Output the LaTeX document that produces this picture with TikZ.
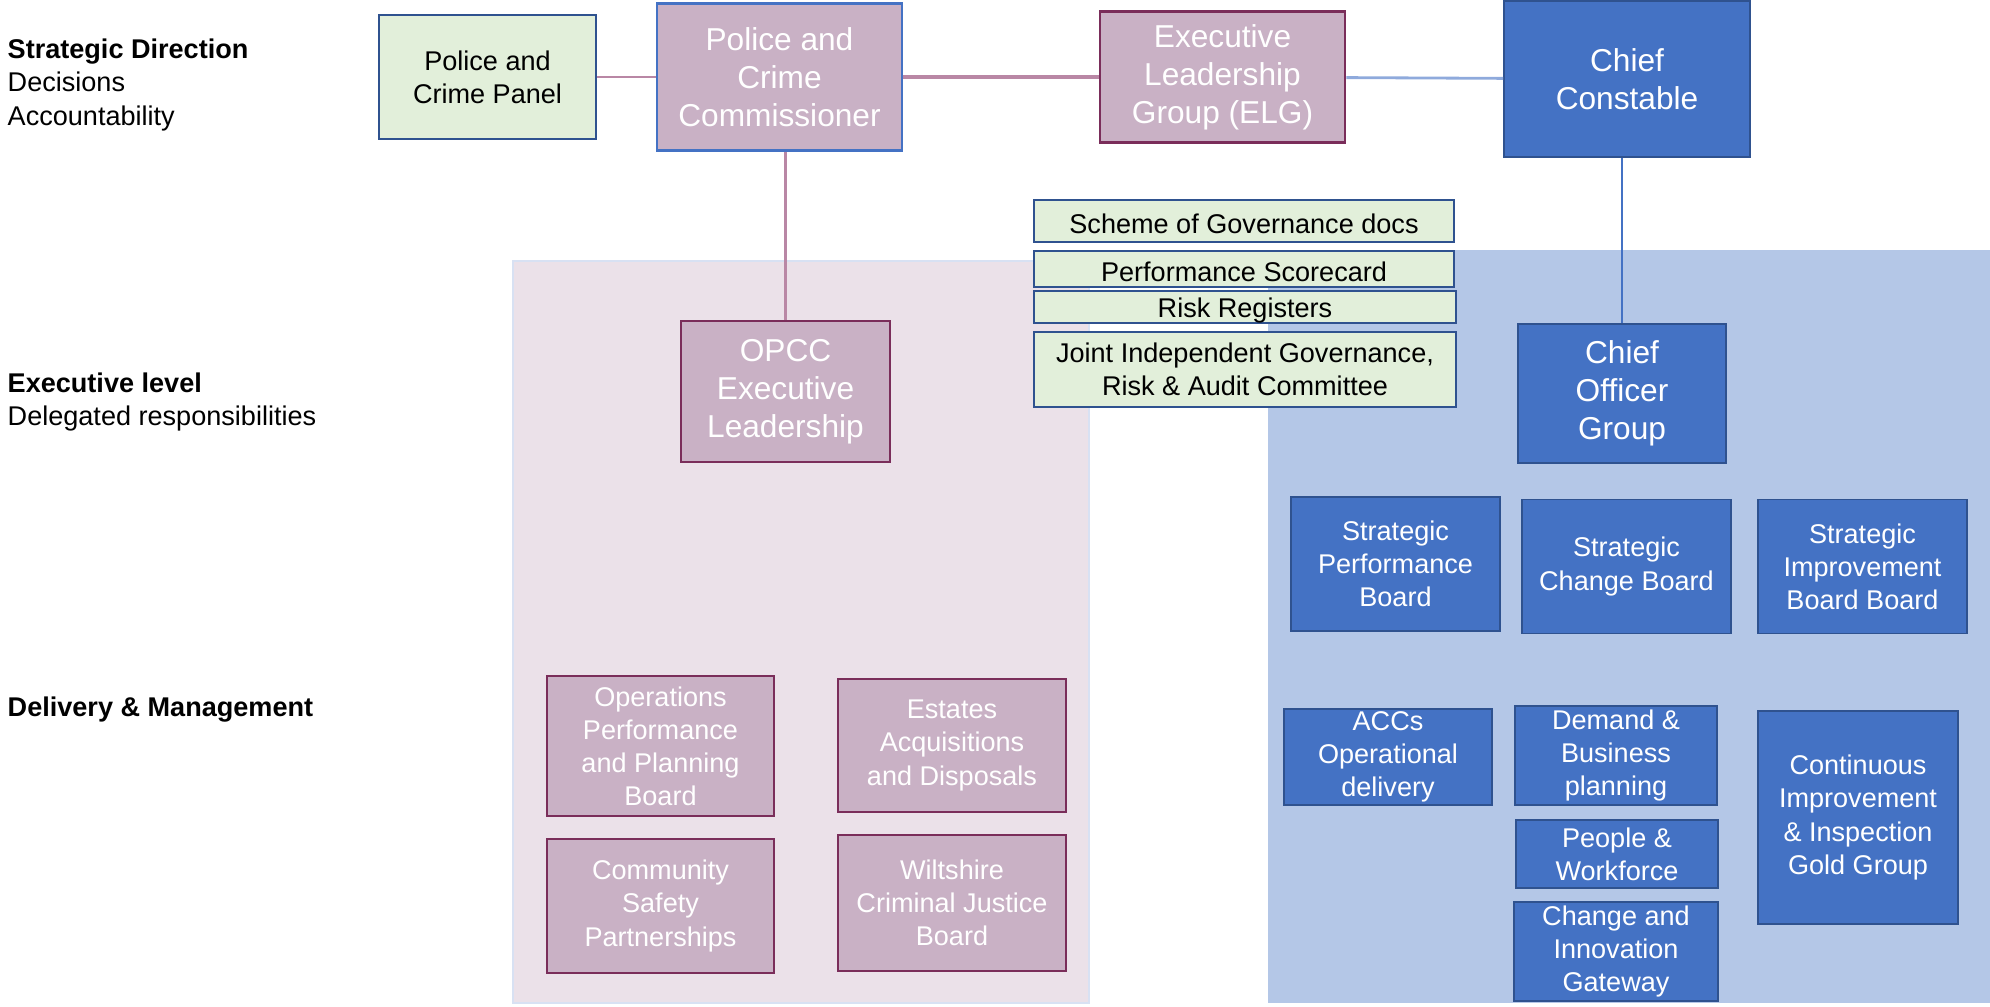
\documentclass[tikz,border=0pt]{standalone}
\usepackage{fontspec}
\setmainfont{Liberation Sans}
\definecolor{mauve}{RGB}{201, 177, 197}
\definecolor{mauveline}{RGB}{122, 45, 90}
\definecolor{pinkpanel}{RGB}{235, 225, 233}
\definecolor{mblue}{RGB}{68, 114, 196}
\definecolor{mblueline}{RGB}{47, 82, 143}
\definecolor{bluepanel}{RGB}{180, 199, 231}
\definecolor{mgreen}{RGB}{226, 239, 218}
\definecolor{link}{RGB}{185, 135, 165}
\definecolor{linkblue}{RGB}{143, 170, 220}
\newcommand\bigtxt{\fontsize{9}{10.8}\selectfont}
\newcommand\smalltxt{\fontsize{7.7}{9.4}\selectfont}
\tikzset{boxsize/.style 2 args = {minimum width = #1*0.01cm, minimum height = #2*0.01cm}}
\tikzset{base/.style = {inner sep = 0, align = center, font = \smalltxt,
    execute at begin node = {\rule{0pt}{0.95em}}}}
\tikzset{bigfont/.style = {font = \bigtxt}}
\tikzset{greenbox/.style = {base, draw = mblueline, fill = mgreen, line width = 0.6pt}}
\tikzset{mauvebox/.style = {base, draw = mauveline, fill = mauve, text = white, line width = 0.8pt}}
\tikzset{bluebox/.style = {base, draw = mblueline, fill = mblue, text = white, line width = 0.5pt}}
\tikzset{label/.style = {anchor = west, align = left, inner sep = 0, font = \smalltxt}}

\begin{document}
\begin{tikzpicture}[x = 0.01cm, y = -0.01cm]
    \useasboundingbox (0, 0) rectangle (1990, 1007);

    \fill [pinkpanel, draw = linkblue!35] (513, 261) rectangle (1089, 1003);
    \fill [bluepanel] (1268, 250) rectangle (1990, 1003);

    \node [label] (strat) at (7, 85) {\textbf{Strategic Direction}\\Decisions\\Accountability};
    \node [label] (exec) at (7, 402) {\textbf{Executive level}\\Delegated responsibilities};
    \node [label] (deliv) at (7, 710) {\textbf{Delivery \& Management}};

    \node [greenbox, boxsize = {217}{124}] (pcp) at (487.5, 77) {Police and\\Crime Panel};
    \node [mauvebox, bigfont, draw = mblue, boxsize = {245}{147}] (pcc) at (779.5, 77) {Police and\\Crime\\Commissioner};
    \node [mauvebox, bigfont, boxsize = {245}{131}] (elg) at (1222.5, 77) {Executive\\Leadership\\Group (ELG)};
    \node [bluebox, bigfont, boxsize = {246}{156}] (cc) at (1627, 79) {Chief\\Constable};

    \node [mauvebox, bigfont, boxsize = {209}{141}] (opcc) at (785.5, 391.5) {OPCC\\Executive\\Leadership};
    \node [bluebox, bigfont, boxsize = {208}{139}] (cog) at (1622, 393.5) {Chief\\Officer\\Group};

    \draw [link, line width = 0.6pt] (pcp) -- (pcc);
    \draw [link, line width = 0.9pt] (pcc) -- (elg);
    \draw [linkblue, line width = 0.8pt] (elg) -- (cc);
    \draw [link, line width = 0.6pt] (opcc.north) -- (opcc.north |- pcc.south);
    \draw [mblue, line width = 0.4pt] (cog.north) -- (cog.north |- cc.south);

    \node [greenbox, boxsize = {420}{42}] (gov) at (1244, 221) {Scheme of Governance docs};
    \node [greenbox, boxsize = {420}{36}] (score) at (1244, 269) {Performance Scorecard};
    \node [greenbox, boxsize = {422}{30}] (risk) at (1245, 307) {Risk Registers};
    \node [greenbox, boxsize = {422}{75}] (jigrac) at (1245, 369.5) {Joint Independent Governance,\\Risk \& Audit Committee};

    \foreach \name/\x/\y/\txt in {spb/1395.5/564/{Strategic\\Performance\\Board},
      scb/1626.5/566.5/{Strategic\\Change Board},
      sib/1862.5/566.5/{Strategic\\Improvement\\Board Board}} {
      \node [bluebox, boxsize = {209}{134}] (\name) at (\x, \y) {\txt};
    }

    \node [mauvebox, boxsize = {227}{140}] (ops) at (660.5, 746) {Operations\\Performance\\and Planning\\Board};
    \node [mauvebox, boxsize = {228}{133}] (est) at (952, 745.5) {Estates\\Acquisitions\\and Disposals};
    \node [mauvebox, boxsize = {227}{134}] (csp) at (660.5, 906) {Community\\Safety\\Partnerships};
    \node [mauvebox, boxsize = {228}{136}] (wcjb) at (952, 903) {Wiltshire\\Criminal Justice\\Board};

    \node [bluebox, boxsize = {208}{96}] (acc) at (1388, 757) {ACCs\\Operational\\delivery};
    \node [bluebox, boxsize = {202}{99}] (dem) at (1616, 755.5) {Demand \&\\Business\\planning};
    \node [bluebox, boxsize = {202}{68}] (ppl) at (1617, 854) {People \&\\Workforce};
    \node [bluebox, boxsize = {204}{99}] (cig) at (1616, 951.5) {Change and\\Innovation\\Gateway};
    \node [bluebox, boxsize = {200}{213}] (cont) at (1858, 817.5) {Continuous\\Improvement\\\& Inspection\\Gold Group};
  \end{tikzpicture}
\end{document}
